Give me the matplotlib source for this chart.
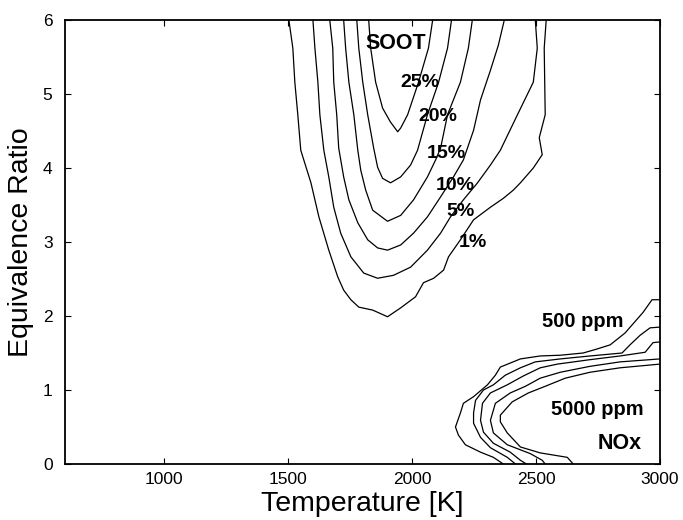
import matplotlib
matplotlib.use("Agg")
import matplotlib.pyplot as plt

plt.rcParams["font.family"] = ["Liberation Sans", "DejaVu Sans"]

# soot contours (temperature [K], equivalence ratio)
soot_1_T = [1503, 1519, 1527, 1539, 1551, 1592, 1624, 1664, 1700, 1724, 1753, 1785, 1841, 1901, 1954, 2014,
            2046, 2087, 2127, 2147, 2195, 2248, 2284, 2316, 2368, 2408, 2437, 2489, 2525, 2513, 2537, 2533, 2541]
soot_1_phi = [6.0, 5.62, 5.16, 4.72, 4.24, 3.80, 3.34, 2.89, 2.53, 2.35, 2.22, 2.12, 2.08, 1.99, 2.11, 2.26,
              2.45, 2.51, 2.62, 2.80, 3.03, 3.30, 3.39, 3.47, 3.59, 3.70, 3.80, 4.00, 4.18, 4.41, 4.72, 5.62, 6.0]

soot_5_T = [1600, 1608, 1620, 1628, 1644, 1664, 1684, 1712, 1753, 1805, 1861, 1925, 1994, 2062, 2115, 2155,
            2207, 2264, 2316, 2356, 2425, 2489, 2505, 2497]
soot_5_phi = [6.0, 5.62, 5.16, 4.72, 4.24, 3.88, 3.47, 3.12, 2.80, 2.58, 2.51, 2.55, 2.66, 2.89, 3.12, 3.34,
              3.57, 3.80, 4.04, 4.24, 4.72, 5.16, 5.62, 6.0]

soot_10_T = [1668, 1680, 1684, 1696, 1704, 1724, 1745, 1781, 1821, 1861, 1901, 1954, 2006, 2062, 2115, 2167,
             2207, 2248, 2276, 2316, 2348, 2372]
soot_10_phi = [6.0, 5.62, 5.16, 4.72, 4.27, 3.88, 3.57, 3.26, 3.03, 2.92, 2.89, 2.96, 3.12, 3.34, 3.61, 3.88,
               4.11, 4.51, 4.92, 5.32, 5.66, 6.0]

soot_15_T = [1724, 1732, 1745, 1765, 1781, 1793, 1813, 1841, 1901, 1954, 2006, 2062, 2095, 2115, 2143, 2195,
             2227, 2243]
soot_15_phi = [6.0, 5.62, 5.16, 4.72, 4.24, 3.97, 3.70, 3.43, 3.28, 3.36, 3.57, 3.88, 4.11, 4.27, 4.72, 5.16,
               5.62, 6.0]

soot_20_T = [1777, 1785, 1801, 1821, 1845, 1861, 1881, 1913, 1954, 1994, 2022, 2062, 2107, 2143, 2159]
soot_20_phi = [6.0, 5.62, 5.16, 4.72, 4.27, 4.01, 3.86, 3.80, 3.88, 4.04, 4.24, 4.72, 5.16, 5.62, 6.0]

soot_25_T = [1825, 1833, 1853, 1881, 1913, 1942, 1954, 1982, 2026, 2066, 2083]
soot_25_phi = [6.0, 5.62, 5.16, 4.81, 4.62, 4.49, 4.54, 4.72, 5.16, 5.62, 6.0]

# NOx contours, outer (500 ppm) to inner (5000 ppm)
nox_a_T = [3000, 2968, 2932, 2859, 2799, 2742, 2690, 2598, 2517, 2437, 2356, 2336, 2304, 2248, 2207, 2195,
           2175, 2187, 2215, 2276, 2328, 2368]
nox_a_phi = [2.22, 2.22, 2.05, 1.77, 1.61, 1.55, 1.50, 1.47, 1.46, 1.42, 1.31, 1.20, 1.07, 0.91, 0.82, 0.69,
             0.50, 0.39, 0.26, 0.16, 0.09, 0.0]

nox_b_T = [3000, 2960, 2920, 2879, 2847, 2718, 2598, 2497, 2437, 2376, 2328, 2288, 2256, 2248, 2248, 2276,
           2316, 2384, 2417]
nox_b_phi = [1.85, 1.84, 1.74, 1.61, 1.50, 1.46, 1.42, 1.38, 1.30, 1.20, 1.07, 1.00, 0.86, 0.69, 0.55, 0.36,
             0.22, 0.09, 0.0]

nox_c_T = [3000, 2972, 2940, 2839, 2718, 2586, 2517, 2449, 2384, 2316, 2284, 2276, 2288, 2328, 2396, 2437, 2461]
nox_c_phi = [1.65, 1.64, 1.51, 1.46, 1.41, 1.35, 1.30, 1.19, 1.07, 0.96, 0.82, 0.59, 0.43, 0.28, 0.16, 0.05, 0.0]

nox_d_T = [3000, 2839, 2718, 2598, 2517, 2457, 2396, 2336, 2316, 2328, 2384, 2477, 2525, 2537]
nox_d_phi = [1.42, 1.38, 1.32, 1.24, 1.16, 1.05, 0.96, 0.82, 0.59, 0.42, 0.26, 0.14, 0.05, 0.0]

nox_e_T = [3000, 2839, 2718, 2618, 2537, 2469, 2404, 2356, 2356, 2384, 2437, 2517, 2626, 2650]
nox_e_phi = [1.35, 1.30, 1.24, 1.16, 1.05, 0.96, 0.84, 0.66, 0.57, 0.42, 0.23, 0.15, 0.09, 0.0]

soot_curves = [(soot_1_T, soot_1_phi), (soot_5_T, soot_5_phi), (soot_10_T, soot_10_phi),
               (soot_15_T, soot_15_phi), (soot_20_T, soot_20_phi), (soot_25_T, soot_25_phi)]
nox_curves = [(nox_a_T, nox_a_phi), (nox_b_T, nox_b_phi), (nox_c_T, nox_c_phi),
              (nox_d_T, nox_d_phi), (nox_e_T, nox_e_phi)]

# labels: text, T, phi, size
labels = [("SOOT", 1934, 5.68, 15.5), ("25%", 2030, 5.16, 14), ("20%", 2103, 4.70, 14),
          ("15%", 2139, 4.20, 14), ("10%", 2175, 3.77, 14), ("5%", 2195, 3.41, 14),
          ("1%", 2244, 3.00, 14), ("500 ppm", 2690, 1.92, 14.5), ("5000 ppm", 2746, 0.73, 14.5),
          ("NOx", 2839, 0.28, 15.5)]

fig = plt.figure(figsize=(6.83, 5.2), dpi=100)
ax = fig.add_axes([0.0952, 0.1077, 0.8711, 0.8538])

for T, phi in soot_curves + nox_curves:
    ax.plot(T, phi, color="black", lw=0.9)

for txt, T, phi, size in labels:
    ax.text(T, phi, txt, fontsize=size, fontweight="bold", ha="center", va="center")

ax.set_xlim(600, 3000)
ax.set_ylim(0, 6)
ax.set_xticks([1000, 1500, 2000, 2500, 3000])
ax.set_yticks([0, 1, 2, 3, 4, 5, 6])
ax.tick_params(direction="in", top=True, right=True, length=4, width=0.8, labelsize=12.5)
ax.tick_params(axis="y", pad=9)
ax.tick_params(axis="x", pad=6)
for s in ax.spines.values():
    s.set_linewidth(1.3)

ax.set_xlabel("Temperature [K]", fontsize=20.5, labelpad=3)
ax.set_ylabel("Equivalence Ratio", fontsize=20.5, labelpad=6)

fig.savefig("out.png", dpi=100)
